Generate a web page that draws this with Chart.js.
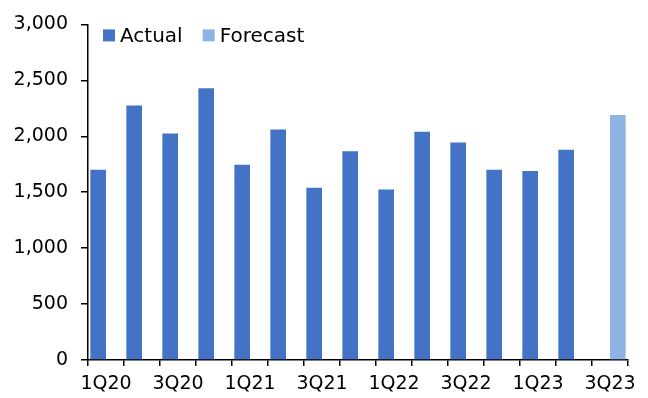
<!DOCTYPE html>
<html>
<head>
<meta charset="utf-8">
<script src="https://cdn.jsdelivr.net/npm/chart.js@4"></script>
<style>
  html, body { margin: 0; padding: 0; background: #fff; }
  #wrap { width: 648px; height: 398px; }
</style>
</head>
<body>
<div id="wrap"><canvas id="c" width="648" height="398"></canvas></div>
<script>
// Quarterly values
const quarters = ['1Q20','2Q20','3Q20','4Q20','1Q21','2Q21','3Q21','4Q21','1Q22','2Q22','3Q22','4Q22','1Q23','2Q23','3Q23'];
const actual   = [1700, 2275, 2025, 2430, 1745, 2060, 1540, 1865, 1525, 2040, 1945, 1700, 1690, 1880, null];
const forecast = [null, null, null, null, null, null, null, null, null, null, null, null, null, null, 2190];
const yTicks   = [0, 500, 1000, 1500, 2000, 2500, 3000];

const FONT = 'DejaVu Sans';

// Simple inline legend drawn at the top-left of the plot area
const inlineLegend = {
  id: 'inlineLegend',
  afterDraw(chart) {
    const ctx = chart.ctx;
    const area = chart.chartArea;
    let x = area.left + 15;
    const cy = area.top + 11;
    ctx.save();
    ctx.font = '20px "' + FONT + '"';
    ctx.textBaseline = 'middle';
    ctx.textAlign = 'left';
    chart.data.datasets.forEach(ds => {
      ctx.fillStyle = ds.backgroundColor;
      ctx.fillRect(x, cy - 6, 12, 12);
      x += 17;
      ctx.fillStyle = '#000';
      ctx.fillText(ds.label, x, cy + 1);
      x += ctx.measureText(ds.label).width + 20;
    });
    ctx.restore();
  }
};

new Chart(document.getElementById('c'), {
  type: 'bar',
  data: {
    labels: quarters,
    datasets: [
      { label: 'Actual', data: actual, backgroundColor: '#4472C4' },
      { label: 'Forecast', data: forecast, backgroundColor: '#8EB4E3' }
    ]
  },
  options: {
    responsive: false,
    animation: false,
    devicePixelRatio: 1,
    datasets: { bar: { categoryPercentage: 0.87, barPercentage: 1.0 } },
    layout: { padding: { top: 22, right: 20, left: 0, bottom: 0 } },
    plugins: { legend: { display: false }, tooltip: { enabled: false } },
    scales: {
      x: {
        offset: true,
        grid: { display: true, offset: true, drawOnChartArea: false, drawTicks: true, tickLength: 6, color: '#000', lineWidth: 1.5 },
        border: { display: true, color: '#000', width: 1.5 },
        ticks: {
          autoSkip: false, maxRotation: 0, minRotation: 0, padding: 7,
          color: '#000', font: { family: FONT, size: 19 },
          callback: function (v, i) { return i % 2 === 0 ? quarters[i] : ''; }
        },
        afterFit(scale) { scale.height = 38; }
      },
      y: {
        min: 0, max: 3000,
        afterBuildTicks(scale) { scale.ticks = yTicks.map(v => ({ value: v })); },
        grid: { display: true, drawOnChartArea: false, tickLength: 7, color: '#000', lineWidth: 1.5 },
        border: { display: true, color: '#000', width: 1.5 },
        ticks: {
          padding: 13, color: '#000', font: { family: FONT, size: 19 },
          callback: v => v.toLocaleString('en-US')
        },
        afterFit(scale) { scale.width = 88; }
      }
    }
  },
  plugins: [inlineLegend]
});
</script>
</body>
</html>
